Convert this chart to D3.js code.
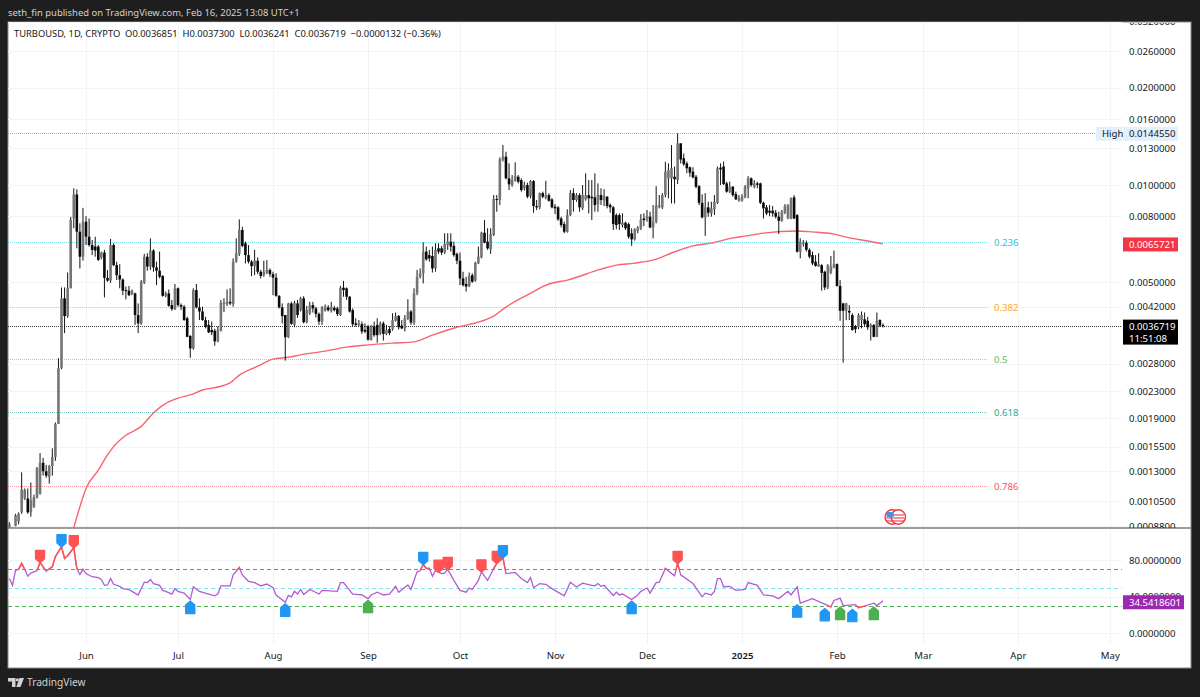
<!DOCTYPE html>
<html>
<head>
<meta charset="utf-8">
<title>TURBOUSD 1D</title>
<script src="https://cdnjs.cloudflare.com/ajax/libs/d3/7.8.5/d3.min.js"></script>
<style>
html, body { margin: 0; padding: 0; background: #1e1e1e; }
svg { display: block; font-family: "Noto Sans", sans-serif; }
</style>
</head>
<body>
<svg width="1200" height="697"></svg>
<script>
// prices are in units of 0.00001. index 0 is 2024-05-07
var candleOpen = [
87,84,88,91,97,107,107,97,101,108,
111,138,130,125,135,144,182,271,446,393,
479,788,935,717,600,770,692,652,645,645,
597,618,516,506,652,565,526,510,473,471,
460,462,396,373,498,600,559,627,556,543,
523,454,462,425,413,479,425,420,387,341,
312,473,418,406,382,369,356,354,328,354,
428,428,435,428,579,612,726,660,607,579,
561,583,539,526,536,546,530,517,454,418,
396,338,430,369,430,
410,446,376,401,425,415,399,378,408,418,
408,417,415,396,481,479,451,410,373,369,
371,356,365,332,365,369,348,373,346,358,
358,380,393,367,360,385,406,375,462,520,
533,622,607,603,552,637,637,618,652,668,
648,612,583,514,494,487,526,506,572,597,
712,668,633,700,905,899,1195,1224,1049,1000,
1032,1061,1036,977,1000,924,1029,861,853,944,
914,931,903,857,853,788,757,717,807,944,
899,931,847,903,931,920,916,873,
931,895,920,867,853,807,807,752,765,757,
709,679,721,735,788,788,798,739,770,853,
853,931,1049,1049,1061,1036,1346,1210,1167,1135,
1100,1061,992,881,794,853,817,841,881,1132,
1141,1012,954,988,937,895,895,916,977,1049,
988,1012,1012,881,853,833,833,821,798,775,
821,788,788,916,807,622,657,663,630,607,
579,559,565,539,482,535,556,569,487,430,
408,408,396,365,363,382,384,380,363,369,
339,382,368.51];
var candleHigh = [
90.3,87,96,97,129,115,115,120,110,134,
148,143,136,136,153,184,291,482,482,536,
797,977,970,761,850,801,788,676,692,652,
622,630,546,681,660,579,569,514,485,487,
475,464,430,508,612,615,684,633,579,622,
526,468,475,441,494,482,430,425,391,343,
479,494,446,420,391,382,378,359,365,441,
446,475,479,593,684,783,743,668,652,586,
630,597,546,583,586,552,539,533,456,430,
396,432,435,438,441,
451,453,422,435,435,420,403,422,427,425,
435,422,420,487,505,482,453,415,387,382,
378,373,369,369,378,387,378,378,369,365,
401,403,396,382,396,443,410,479,546,552,
665,645,630,645,660,660,648,709,709,709,
668,618,618,539,520,536,533,579,645,717,
779,735,735,931,931,1218,1330,1268,1167,1074,
1176,1074,1049,1024,1017,1036,1036,899,948,954,
1031,944,910,873,861,798,770,841,965,977,
944,944,1000,1087,1036,1036,1087,1012,
977,971,924,877,861,817,817,817,770,765,
735,735,746,813,817,837,827,867,992,931,
944,1180,1167,1330,1141,1445.5,1346,1252,1183,1141,
1135,1074,1000,936,944,888,888,931,1141,1167,
1183,1024,1024,992,954,931,937,1000,1066,1056,
1036,1024,1017,888,867,867,861,837,827,837,
873,873,916,931,813,684,676,673,637,622,
607,615,569,543,569,603,627,572,508,432,
432,425,401,369,401,406,403,391,373,371,
403,384,373];
var candleLow = [
86.7,83,87.8,89,96,106,96,94,100,107,
110,126,124,119,126,140,182,269,348,388,
479,735,637,552,583,652,645,607,600,583,
589,449,502,498,561,508,479,456,443,453,
456,369,348,369,494,543,546,539,490,514,
451,449,420,408,410,420,410,380,338,292,
309,415,382,380,360,348,343,318,326,352,
404,422,425,420,575,603,642,572,572,522,
526,530,514,520,530,520,456,451,415,373,
286,336,369,363,388,
406,373,373,396,403,389,369,369,406,406,
403,406,393,393,451,441,403,365,365,365,
346,348,330,330,339,325,343,330,343,343,
354,378,357,358,352,382,369,369,456,514,
496,583,579,536,539,612,607,612,630,622,
600,569,490,485,468,483,498,502,569,593,
660,630,612,695,827,867,1183,1042,965,988,
1024,1012,954,961,910,910,821,837,841,910,
903,888,847,813,775,739,709,712,801,827,
888,827,837,894,817,779,827,827,
867,861,847,821,726,730,726,739,726,682,
648,673,709,726,746,770,735,684,761,847,
843,916,910,877,877,1007,1167,1147,1087,1061,
1049,977,867,788,696,798,798,807,873,1000,
1000,947,944,920,899,888,888,910,910,988,
977,977,873,788,807,801,798,788,705,770,
813,784,784,784,618,593,645,622,593,565,
559,559,471,473,476,530,552,485,380,282,
382,382,354,348,358,360,365,356,330,338,
338,363,362.41];
var candleClose = [
88.9,86,95,96,114,114,97,106,108,133,
138,130,126,135,144,182,271,446,393,479,
781,935,717,600,770,692,652,630,627,586,
618,516,506,652,565,526,510,471,470,456,
470,396,373,502,600,559,627,556,543,520,
454,462,423,413,479,425,420,382,339,312,
473,418,406,382,365,350,350,328,356,432,
432,435,430,579,615,726,648,607,579,561,
583,539,523,539,546,530,517,454,418,393,
338,430,372,432,396,
446,376,410,425,415,399,378,418,420,410,
420,410,399,481,473,451,406,371,369,373,
352,352,332,365,343,343,373,346,356,348,
382,393,363,360,387,406,375,462,520,533,
622,589,593,552,630,622,618,657,668,645,
607,583,514,490,485,523,502,575,600,712,
663,637,705,905,903,1200,1224,1049,1005,1036,
1066,1024,965,1000,920,1029,861,853,944,920,
931,894,853,847,783,752,717,807,944,899,
931,853,931,931,910,910,867,931,
899,925,861,853,757,752,757,765,735,692,
679,730,739,782,779,802,739,770,865,867,
931,1100,1113,1127,1042,1346,1200,1160,1127,1092,
1056,988,881,794,853,821,847,888,1127,1118,
1007,954,988,931,903,910,920,988,1049,1000,
1012,1002,881,847,817,821,817,798,775,827,
861,867,910,788,622,668,663,630,600,572,
562,569,535,482,565,559,569,487,408,408,
430,403,356,358,396,396,371,363,369,339,
380,367,367.19];

var maDay = [21,23,25,29,32,34,38,43,47,50,55,59,63,68,72,75,81,86,91,95,103,110,117,125,132,138,146,152,158,162,169,176,182,193,198,204,211,216,223,229,236,240,246,257,262,269,274,280,285];
var maValue = [87,101,115,131,146,155,168,179,197,208,219,224,232,237,244,258,275,289,293,298,306,315,320,324,327,343,363,374,393,419,457,494,508,549,565,573,590,616,648,661,686,695,710,721,716,705,686,671,657.21];

var rsiDay = [0,1,2,3,4,5,6,7,8,9,10,12,14,15,17,18,19,21,22,23,24,25,27,29,30,31,32,33,34,36,37,39,40,42,44,45,46,47,49,50,51,53,54,55,57,59,60,62,65,67,68,69,72,73,75,76,78,80,82,84,86,87,90,91,92,93,94,95,96,98,101,102,107,108,109,112,115,117,118,120,122,124,126,127,130,131,133,134,135,136,137,138,139,141,142,143,145,147,149,150,151,153,154,156,158,159,161,162,165,167,169,170,171,173,175,177,181,183,185,187,190,191,192,193,194,197,198,199,200,203,205,206,208,209,211,212,214,217,218,219,223,226,227,229,230,231,232,233,235,237,240,241,244,246,249,251,254,255,257,258,262,265,266,268,269,271,272,276,277,282,283,285];
var rsiValue = [60,52.6,69,70,76.7,70,62.6,66,67.4,68.5,77.8,68,73,84,95,82,85,94,71,64.5,70,65.5,62,61,59,52.6,53,60,53.7,51.5,49,48,46,42,56,55.6,59,54.5,52.6,47,46,43,49,46,44,37,51,46,43,41,43,52,52,64,72,64,57,55.6,52,54,50,42,34,41.5,40,46,43,48,42.6,48,43,47,46,55.6,55.6,43,42,38,42,45,42,43,51.5,45,53,48,67.4,68.5,75.5,71,71,62.6,69,65.5,66,70,58,47,45,49.6,48,58,67.4,58,71,76.7,83,65.5,66.7,60,55.6,61,50,54.5,53.7,49,41,56,50.8,55,52.6,52,54.5,51.5,52.6,41.5,45,42,43,37,42,46,49.6,44,55.6,56,71,63,76.7,64,54.5,40,44,42,46,60,60,51,51.5,47,48,55.6,52.6,42,41,38,46,42,51,33,38,33.4,32,29,36,38.5,30.4,31.5,28,33,30.4,35.6,34.54];

var markerDay = [10,17,21,135,140,143,154,159,161,218,59,90,117,203,257,266,271,275,282];
var markerValue = [77.8,95,94,75.5,67,70,67.4,76.7,83,76.7,37,34,38,37,33,29,30.4,28,30.4];
var markerKind = ["red","blue","red","blue","red","red","red","red","blue","red","blue","blue","green","blue","blue","blue","green","blue","green"];
var markerColors = {red: "#ff5252", blue: "#2196f3", green: "#4caf50"};

var priceTicks = [0.032,0.026,0.02,0.016,0.013,0.01,0.008,0.005,0.0042,0.0028,0.0023,0.0019,0.00155,0.0013,0.00105,0.00088];
var rsiTicks = [80,40,0];
var rsiBands = [70,50,30];
var rsiBandColors = ["#f7525f","#80e5ef","#4caf50"];
var timeTicks = ["2024-06-01","2024-07-01","2024-08-01","2024-09-01","2024-10-01","2024-11-01","2024-12-01","2025-01-01","2025-02-01","2025-03-01","2025-04-01","2025-05-01"];
var timeLabels = ["Jun","Jul","Aug","Sep","Oct","Nov","Dec","2025","Feb","Mar","Apr","May"];

var fibLevels = ["0.236","0.382","0.5","0.618","0.786"];
var fibPrices = [0.00666,0.00418,0.00289,0.00198,0.00117];
var fibColors = ["#26c6da","#ffa726","#66bb6a","#22ab94","#f7525f"];
var highPrice = 0.014455, lastPrice = 0.0036719, maLast = 0.0065721, rsiLast = 34.5418601;
var eventDays = [288,290];

var unit = 0.00001;
var svg = d3.select("svg");
var paneLeft = 8, paneRight = 1122, edge = 1191, paneTop = 22, split = 528, paneBottom = 668, timeTop = 645;

var parse = d3.utcParse("%Y-%m-%d");
var day0 = parse("2024-05-07");
var x = d3.scaleUtc().domain([day0, parse("2025-02-16")]).range([9.4, 883]);
var xDay = function(i){ return x(d3.utcDay.offset(day0, i)); };
var y = d3.scaleLog().domain([0.026, 0.00088]).range([51, 526]);
var yRsi = d3.scaleLinear().domain([0, 80]).range([633.3, 560.3]);

svg.append("rect").attr("width", 1200).attr("height", 697).attr("fill", "#1e1e1e");
svg.append("rect").attr("x", paneLeft).attr("y", paneTop).attr("width", edge - paneLeft).attr("height", paneBottom - paneTop)
    .attr("fill", "#fff").attr("stroke", "#8a8a8a");

var defs = svg.append("defs");
function clip(id, x0, y0, w, h){
    defs.append("clipPath").attr("id", id).append("rect")
        .attr("x", x0).attr("y", y0).attr("width", w).attr("height", h);
}
clip("pricePane", paneLeft, paneTop + 1, paneRight - paneLeft, split - paneTop - 1);
clip("priceAxis", paneRight, paneTop + 1, edge - paneRight, split - paneTop - 1);
clip("rsiHigh", paneLeft, split, paneRight - paneLeft, yRsi(70) - split);
clip("rsiLow", paneLeft, yRsi(30), paneRight - paneLeft, paneBottom - yRsi(30));

// grid
var grid = svg.append("g").attr("stroke", "#f2f3f5").attr("fill", "none");
timeTicks.forEach(function(t){
    var px = Math.round(x(parse(t))) + 0.5;
    grid.append("line").attr("x1", px).attr("x2", px).attr("y1", paneTop).attr("y2", timeTop);
});
priceTicks.forEach(function(p){
    var py = Math.round(y(p)) + 0.5;
    if (py > paneTop && py < split) grid.append("line").attr("x1", paneLeft).attr("x2", paneRight).attr("y1", py).attr("y2", py);
});
rsiTicks.forEach(function(v){
    var py = Math.round(yRsi(v)) + 0.5;
    grid.append("line").attr("x1", paneLeft).attr("x2", paneRight).attr("y1", py).attr("y2", py);
});

// fib levels, high and last price
var levels = svg.append("g").attr("fill", "none").attr("stroke-width", 1).attr("stroke-dasharray", "1,1");
fibPrices.forEach(function(p, i){
    var py = Math.round(y(p)) + 0.5;
    levels.append("line").attr("x1", paneLeft).attr("x2", 987).attr("y1", py).attr("y2", py)
        .attr("stroke", fibColors[i]).attr("stroke-opacity", 0.6);
    svg.append("text").attr("x", 994).attr("y", py).attr("dy", "0.35em")
        .attr("font-size", 9.6).attr("fill", fibColors[i]).text(fibLevels[i]);
});
levels.append("line").attr("x1", paneLeft).attr("x2", 1095).attr("y1", Math.round(y(highPrice)) + 0.5).attr("y2", Math.round(y(highPrice)) + 0.5)
    .attr("stroke", "#9a9a9a").attr("stroke-opacity", 0.8);
levels.append("line").attr("x1", paneLeft).attr("x2", paneRight).attr("y1", Math.round(y(lastPrice)) + 0.5).attr("y2", Math.round(y(lastPrice)) + 0.5)
    .attr("stroke", "#131722").attr("stroke-opacity", 0.85);

var pane = svg.append("g").attr("clip-path", "url(#pricePane)");

// moving average
var maLine = d3.line().curve(d3.curveMonotoneX).x(function(d){ return xDay(d); }).y(function(d, i){ return y(maValue[i] * unit); });
pane.append("path").attr("d", maLine(maDay)).attr("fill", "none")
    .attr("stroke", "#f7525f").attr("stroke-width", 1.4).attr("stroke-opacity", 0.9);

// candles
var candles = pane.selectAll("g.candle").data(candleOpen).enter().append("g").attr("class", "candle");
candles.append("line")
    .attr("x1", function(d, i){ return xDay(i); })
    .attr("x2", function(d, i){ return xDay(i); })
    .attr("y1", function(d, i){ return y(candleHigh[i] * unit); })
    .attr("y2", function(d, i){ return y(candleLow[i] * unit); })
    .attr("stroke", "#141414").attr("stroke-width", 1);
candles.append("rect")
    .attr("x", function(d, i){ return xDay(i) - 1.3; })
    .attr("width", 2.6)
    .attr("y", function(d, i){ return y(Math.max(d, candleClose[i]) * unit); })
    .attr("height", function(d, i){ return Math.max(1, Math.abs(y(d * unit) - y(candleClose[i] * unit))); })
    .attr("fill", function(d, i){ return candleClose[i] >= d ? "#757575" : "#0a0a0a"; });

// event icon
eventDays.forEach(function(d){
    var px = xDay(d), py = split - 11, g = svg.append("g");
    g.append("circle").attr("cx", px).attr("cy", py).attr("r", 7.2).attr("fill", "#fff").attr("stroke", "#f23645").attr("stroke-width", 1.4);
    [-3, 0, 3].forEach(function(o){
        g.append("line").attr("x1", px - 6).attr("x2", px + 6).attr("y1", py + o + 1).attr("y2", py + o + 1).attr("stroke", "#f23645").attr("stroke-width", 1.1);
    });
});
svg.append("rect").attr("x", xDay(eventDays[0]) - 5.5).attr("y", split - 16).attr("width", 7).attr("height", 5).attr("fill", "#4a90e2");

// separator
svg.append("line").attr("x1", paneLeft).attr("x2", edge).attr("y1", split).attr("y2", split).attr("stroke", "#7d7d7d").attr("stroke-width", 1.5);

// price axis
var priceAxis = d3.axisRight(y).tickValues(priceTicks).tickSize(0).tickPadding(0).tickFormat(d3.format(".7f"));
var gPrice = svg.append("g").attr("transform", "translate(1129,0)").call(priceAxis);
svg.append("g").attr("clip-path", "url(#priceAxis)").node().appendChild(gPrice.node());
gPrice.select(".domain").remove();
gPrice.selectAll("text").attr("x", 0).attr("font-size", 9.6).attr("font-family", "Noto Sans").attr("fill", "#131722");

// rsi bands
rsiBands.forEach(function(v, i){
    svg.append("line").attr("x1", paneLeft).attr("x2", paneRight).attr("y1", Math.round(yRsi(v)) + 0.5).attr("y2", Math.round(yRsi(v)) + 0.5)
        .attr("stroke", rsiBandColors[i]).attr("stroke-dasharray", "4,3");
});

// rsi line, red outside the 70/30 band
var rsiLine = d3.line().x(function(d){ return xDay(d); }).y(function(d, i){ return yRsi(rsiValue[i]); });
svg.append("path").attr("d", rsiLine(rsiDay)).attr("fill", "none").attr("stroke", "#b05cd0").attr("stroke-width", 1.3);
["rsiHigh", "rsiLow"].forEach(function(id){
    svg.append("path").attr("d", rsiLine(rsiDay)).attr("fill", "none").attr("stroke", "#ff5252")
        .attr("stroke-width", 1.5).attr("clip-path", "url(#" + id + ")");
});

// markers
var shape = d3.line();
markerDay.forEach(function(d, i){
    var px = xDay(d), up = i >= 10, tip = yRsi(markerValue[i]) + (up ? 1.5 : 0.5), s = up ? 1 : -1;
    var pts = [[0, 0], [4.6, 4], [4.6, 12.5], [-4.6, 12.5], [-4.6, 4]].map(function(p){ return [px + p[0], tip + s * p[1]]; });
    svg.append("path").attr("d", shape(pts) + "Z").attr("fill", markerColors[markerKind[i]])
        .attr("stroke", markerColors[markerKind[i]]).attr("stroke-width", 1.2).attr("stroke-linejoin", "round");
});

// rsi axis
var gRsi = svg.append("g").attr("transform", "translate(1129,0)")
    .call(d3.axisRight(yRsi).tickValues(rsiTicks).tickSize(0).tickPadding(0).tickFormat(d3.format(".7f")));
gRsi.select(".domain").remove();
gRsi.selectAll("text").attr("x", 0).attr("font-size", 9.6).attr("font-family", "Noto Sans").attr("fill", "#131722");

// time axis
var gTime = svg.append("g").attr("transform", "translate(0,652)")
    .call(d3.axisBottom(x).tickValues(timeTicks.map(parse)).tickSize(0).tickPadding(0)
        .tickFormat(function(d, i){ return timeLabels[i]; }));
gTime.select(".domain").remove();
gTime.selectAll("text").attr("font-size", 9.6).attr("font-family", "Noto Sans").attr("fill", "#131722")
    .attr("font-weight", function(d, i){ return timeLabels[i] === "2025" ? 600 : 400; });

// price tags
function tag(x0, py, w, h, fill, color, lines){
    svg.append("rect").attr("x", x0).attr("y", py - h / 2).attr("width", w).attr("height", h).attr("fill", fill);
    lines.forEach(function(t, i){
        svg.append("text").attr("x", x0 + 6).attr("y", py - h / 2 + 7 + i * 12).attr("dy", "0.35em")
            .attr("font-size", 9.6).attr("fill", color).text(t);
    });
}
tag(1096, y(highPrice) + 0.5, 26, 14, "#e3effd", "#131722", ["High"]);
tag(1123, y(highPrice) + 0.5, 55, 14, "#e3effd", "#131722", [d3.format(".7f")(highPrice)]);
tag(1123, y(maLast) + 0.5, 55, 14, "#f23645", "#fff", [d3.format(".7f")(maLast)]);
tag(1123, y(lastPrice) + 6.5, 55, 25, "#000", "#fff", [d3.format(".7f")(lastPrice), "11:51:08"]);
tag(1123, yRsi(rsiLast) + 0.5, 61, 14, "#9c27b0", "#fff", [d3.format(".7f")(rsiLast)]);

// title and legend
svg.append("text").attr("x", 8).attr("y", 15.5).attr("font-size", 9.45).attr("fill", "#d1d1d1")
    .text("seth_fin published on TradingView.com, Feb 16, 2025 13:08 UTC+1");
svg.append("text").attr("x", 14).attr("y", 37).attr("font-size", 9.35).attr("fill", "#131722").attr("xml:space", "preserve")
    .text("TURBOUSD, 1D, CRYPTO  O0.0036851  H0.0037300  L0.0036241  C0.0036719  \u22120.0000132 (\u22120.36%)");

// logo
var logo = svg.append("g").attr("fill", "#d1d1d1");
logo.append("path").attr("d", "M8,678H15.5V687H12V681.5H8ZM19.5,678H24L20.5,687H16.3Z");
logo.append("circle").attr("cx", 17.3).attr("cy", 679.8).attr("r", 1.6);
svg.append("text").attr("x", 27).attr("y", 686.3).attr("font-size", 10.2).attr("fill", "#d1d1d1").text("TradingView");
</script>
</body>
</html>
